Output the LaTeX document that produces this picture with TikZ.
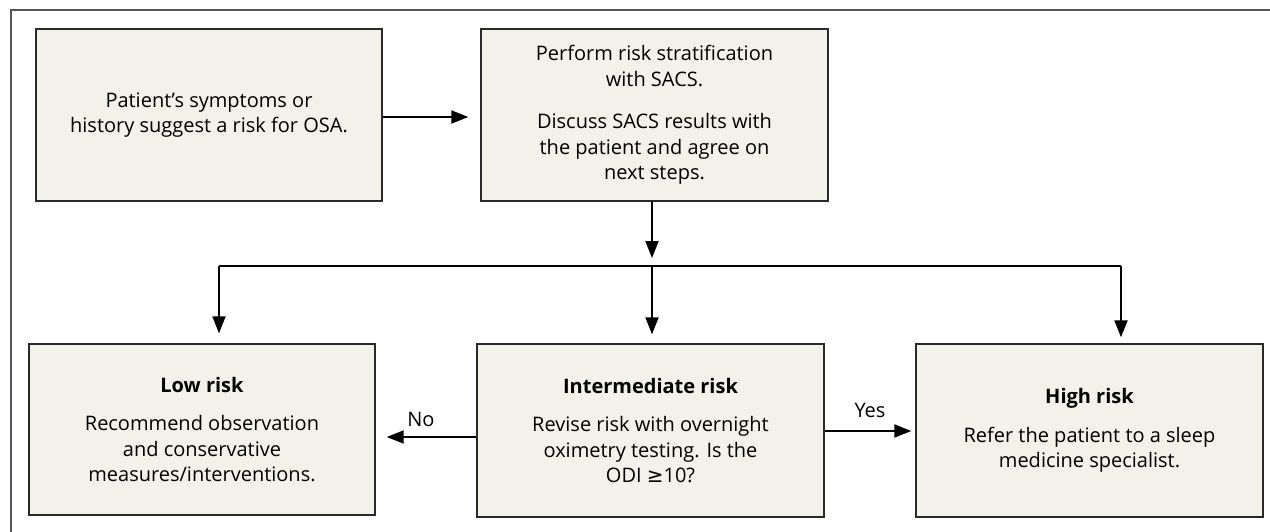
\documentclass[tikz,border=0pt]{standalone}
\usepackage{fontspec}
\setmainfont{Open Sans}
\newfontfamily\symfont{DejaVu Sans}
\usetikzlibrary{arrows.meta}
\definecolor{boxfill}{HTML}{F2F1EA}
\definecolor{boxline}{HTML}{2A2A2A}
\definecolor{frameline}{HTML}{555555}
\tikzset{
  flowbox/.style={draw=boxline, line width=1.4pt, fill=boxfill, align=center,
    inner sep=0pt, minimum width=346pt, minimum height=172pt,
    font=\fontsize{20}{25.5}\selectfont},
  conn/.style={line width=2pt, black},
  arr/.style={conn, -{Triangle[length=17pt,width=13pt]}},
  lbl/.style={font=\fontsize{20}{23}\selectfont, inner sep=0pt}
}
\begin{document}
\begin{tikzpicture}[x=1pt,y=-1pt]
\useasboundingbox (0,0) rectangle (1270,532);
\draw[frameline, line width=2pt] (11,540) -- (11,10) -- (1280,10);
\node[flowbox] (start) at (209,115) {Patient’s symptoms or\\history suggest a risk for OSA.};
\node[flowbox, minimum width=347pt] (strat) at (654.5,115) {Perform risk stratification\\with SACS.\\[17pt]Discuss SACS results with\\the patient and agree on\\next steps.};
\node[flowbox, minimum height=171pt] (low) at (202,429.5) {\textbf{Low risk}\\[13pt]Recommend observation\\and conservative\\measures/interventions.};
\node[flowbox, minimum width=347pt, minimum height=173pt] (mid) at (650.5,430.5) {\textbf{Intermediate risk}\\[13pt]Revise risk with overnight\\oximetry testing. Is the\\ODI {\symfont ≥}10?};
\node[flowbox, minimum width=347pt, minimum height=173pt] (high) at (1089.5,430.5) {\textbf{High risk}\\[13pt]Refer the patient to a sleep\\medicine specialist.};
\coordinate (busL) at (219,266);
\coordinate (busM) at (652,266);
\coordinate (busR) at (1121,266);
\draw[arr, shorten >=12pt] (start.east |- 0,117) -- (strat.west |- 0,117);
\draw[arr, shorten >=8pt] (strat.south -| busM) -- (busM);
\draw[conn] (busL) -- (busR);
\draw[arr, shorten >=10pt] (busL) -- (busL |- low.north);
\draw[arr, shorten >=9pt] (busM) -- (busM |- mid.north);
\draw[arr, shorten >=6pt] (busR) -- (busR |- high.north);
\draw[arr, shorten >=11pt] (mid.west |- 0,437) -- (low.east |- 0,437) node[lbl, pos=0.55, above=9pt] (no) {No};
\draw[arr, shorten >=4pt] (mid.east |- 0,431) -- (high.west |- 0,431) node[lbl, pos=0.5, above=12pt] (yes) {Yes};
\end{tikzpicture}
\end{document}
